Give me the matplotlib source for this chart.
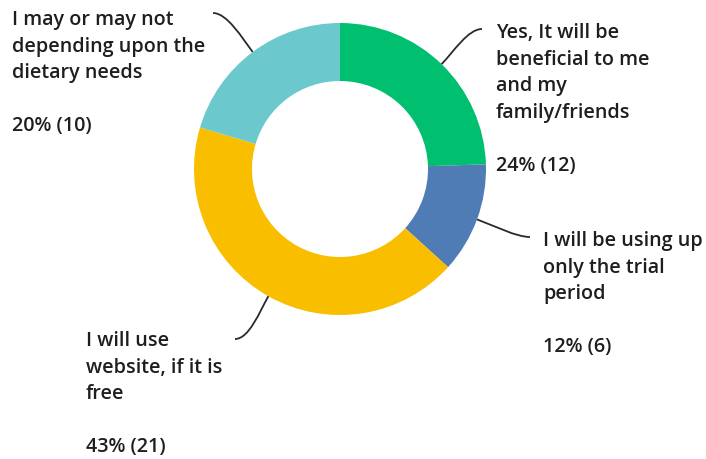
import numpy as np
import matplotlib
matplotlib.use("Agg")
import matplotlib.pyplot as plt
from matplotlib.path import Path
from matplotlib.patches import PathPatch

# Survey answers, clockwise from 12 o'clock
labels = [
    "Yes, It will be\nbeneficial to me\nand my\nfamily/friends",
    "I will be using up\nonly the trial\nperiod",
    "I will use\nwebsite, if it is\nfree",
    "I may or may not\ndepending upon the\ndietary needs",
]
counts = [12, 6, 21, 10]
percents = [24, 12, 43, 20]
colors = ["#00BF6F", "#507CB6", "#F9BE00", "#6BC8CD"]

W, H = 706, 460
fig = plt.figure(figsize=(W / 100, H / 100), dpi=100)
ax = fig.add_axes([0, 0, 1, 1])

cx, cy = 340, H - 170
R, ring = 146, 58

wedges, _ = ax.pie(counts, colors=colors, startangle=90, counterclock=False,
                   center=(cx, cy), radius=R, frame=True,
                   wedgeprops=dict(width=ring, linewidth=0))
ax.set_xlim(0, W)
ax.set_ylim(0, H)
ax.set_aspect("equal")
ax.axis("off")

# label block: (x of text, first line centre y from top, leader end point, side)
label_pos = [
    (496, 32, (482, 30), "right"),
    (543, 240, (530, 238), "right"),
    (86, 340, (235, 340), "left"),
    (12, 19, (213, 14), "left"),
]

font = dict(family=["Open Sans", "DejaVu Sans"], fontsize=14.2, weight=600, color="#1e1e1e")

for w, lab, pct, n, (tx, ty, end, side) in zip(wedges, labels, percents, counts, label_pos):
    mid = np.deg2rad((w.theta1 + w.theta2) / 2)
    ux, uy = np.cos(mid), np.sin(mid)
    p0 = (cx + R * ux, cy + R * uy)
    p3 = (end[0], H - end[1])
    sgn = 1 if side == "right" else -1
    p1 = (p0[0] + 18 * ux, p0[1] + 18 * uy)
    p2 = (p3[0] - sgn * 14, p3[1])
    path = Path([p0, p1, p2, p3], [Path.MOVETO, Path.CURVE4, Path.CURVE4, Path.CURVE4])
    ax.add_patch(PathPatch(path, fill=False, edgecolor="#2a2a2a", linewidth=1.3))
    text = f"{lab}\n\n{pct}% ({n})"
    ax.text(tx, H - ty + 9, text, ha="left", va="top", linespacing=1.44, **font)

fig.savefig("out.png", dpi=100)
